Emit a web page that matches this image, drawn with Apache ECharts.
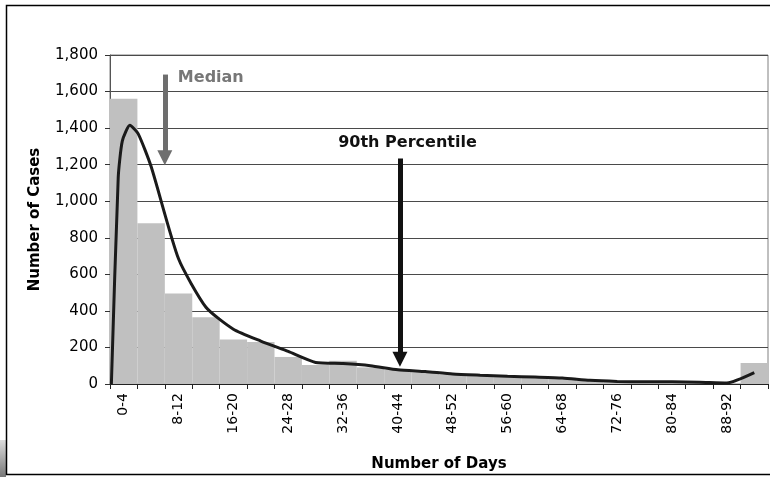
<!DOCTYPE html>
<html>
<head>
<meta charset="utf-8">
<script src="https://cdn.jsdelivr.net/npm/echarts@6/dist/echarts.min.js"></script>
<style>
html,body{margin:0;padding:0;background:#fff;}
#chart{width:770px;height:477px;}
</style>
</head>
<body>
<div id="chart"></div>
<script>
const categories = ['0-4','4-8','8-12','12-16','16-20','20-24','24-28','28-32','32-36','36-40','40-44','44-48',
  '48-52','52-56','56-60','60-64','64-68','68-72','72-76','76-80','80-84','84-88','88-92','92-96'];
const barValues = [1560, 880, 495, 365, 244, 230, 148, 104, 127, 91, 78, 64, 52, 46, 40, 36, 34, 20, 13, 11, 11, 9, 6, 115];
const yTicks = [0, 200, 400, 600, 800, 1000, 1200, 1400, 1600, 1800];
// smoothed curve, x in days
const lineDays   = [0.2, 1.2, 1.8, 2.9, 4.1, 6, 10, 14, 18, 22, 26, 30, 34, 38, 42, 46, 50, 54, 58, 62, 66, 70, 74, 78, 82, 86, 90, 94];
const lineValues = [0, 1130, 1330, 1415, 1370, 1190, 685, 420, 300, 235, 178, 118, 112, 100, 78, 68, 55, 48, 42, 38, 33, 20, 14, 12, 12, 10, 6, 62];
const medianArrow = {day: 8, top: 1693, tip: 1198, label: 'Median'};
const p90Arrow = {day: 42.3, top: 1234, tip: 95, label: '90th Percentile'};

const chart = echarts.init(document.getElementById('chart'), null, {renderer: 'canvas'});
const headLen = 15;
const pxPerUnit = 333.5 / 1800;
const headOffset = headLen / 2 / pxPerUnit;

chart.setOption({
  animation: false,
  backgroundColor: '#fff',
  textStyle: {fontFamily: 'DejaVu Sans'},
  grid: {left: 110, right: 2, top: 55, bottom: 88.5, show: true, borderColor: '#808080', borderWidth: 1},
  xAxis: [{
    type: 'category',
    data: categories,
    boundaryGap: true,
    name: 'Number of Days',
    nameLocation: 'middle',
    nameGap: 73,
    nameTextStyle: {fontFamily: 'DejaVu Sans', fontWeight: 'bold', fontSize: 15, color: '#000'},
    axisLine: {lineStyle: {color: '#222', width: 1}},
    axisTick: {show: true, alignWithLabel: false, interval: 0, length: 5, lineStyle: {color: '#222'}},
    axisLabel: {interval: 1, rotate: 90, margin: 9, fontFamily: 'DejaVu Sans', fontSize: 14, color: '#000'},
    splitLine: {show: false}
  }, {
    type: 'value', min: 0, max: 96, show: false
  }],
  yAxis: {
    type: 'value',
    min: 0, max: 1800, interval: 200,
    name: 'Number of Cases',
    nameLocation: 'middle',
    nameGap: 67,
    nameTextStyle: {fontFamily: 'DejaVu Sans', fontWeight: 'bold', fontSize: 15, color: '#000'},
    axisLine: {show: true, lineStyle: {color: '#555'}},
    axisTick: {show: true, length: 5, lineStyle: {color: '#333'}},
    axisLabel: {margin: 12, fontFamily: 'DejaVu Sans', fontSize: 15, color: '#000',
      formatter: v => yTicks.indexOf(v) >= 0 ? v.toLocaleString('en-US') : ''},
    splitLine: {show: true, lineStyle: {color: '#4a4a4a', width: 1}}
  },
  series: [{
    type: 'bar',
    xAxisIndex: 0,
    data: barValues,
    barCategoryGap: '0%',
    itemStyle: {color: '#c0c0c0'},
    silent: true
  }, {
    type: 'line',
    xAxisIndex: 1,
    data: lineDays.map((d, i) => [d, lineValues[i]]),
    smooth: 0.2,
    showSymbol: false,
    lineStyle: {color: '#1a1a1a', width: 3},
    silent: true,
    z: 3,
    markLine: {
      silent: true,
      symbol: ['none', 'triangle'],
      symbolSize: [15, headLen],
      label: {show: false},
      data: [
        [{coord: [medianArrow.day, medianArrow.top], lineStyle: {color: '#6e6e6e', width: 5, type: 'solid'}, itemStyle: {color: '#6e6e6e'}},
         {coord: [medianArrow.day, medianArrow.tip + headOffset]}],
        [{coord: [p90Arrow.day, p90Arrow.top], lineStyle: {color: '#111', width: 5, type: 'solid'}, itemStyle: {color: '#111'}},
         {coord: [p90Arrow.day, p90Arrow.tip + headOffset]}]
      ]
    },
    markPoint: {
      silent: true,
      symbol: 'rect',
      symbolSize: 0,
      data: [
        {coord: [9.9, 1677], label: {show: true, position: 'right', distance: 0, formatter: medianArrow.label,
          fontFamily: 'DejaVu Sans', fontWeight: 'bold', fontSize: 16, color: '#777'}},
        {coord: [43.4, 1320], label: {show: true, position: 'inside', formatter: p90Arrow.label,
          fontFamily: 'DejaVu Sans', fontWeight: 'bold', fontSize: 16, color: '#111'}}
      ]
    }
  }],
  graphic: [
    {type: 'rect', left: 0, top: 440, shape: {width: 6, height: 37},
      style: {fill: new echarts.graphic.LinearGradient(0, 0, 0, 1, [{offset: 0, color: '#ddd'}, {offset: 1, color: '#777'}])}, silent: true},
    {type: 'rect', shape: {x: 6.5, y: 5.5, width: 800, height: 469}, style: {fill: 'none', stroke: '#000', lineWidth: 1.5}, silent: true, z: 100}
  ]
});
</script>
</body>
</html>
